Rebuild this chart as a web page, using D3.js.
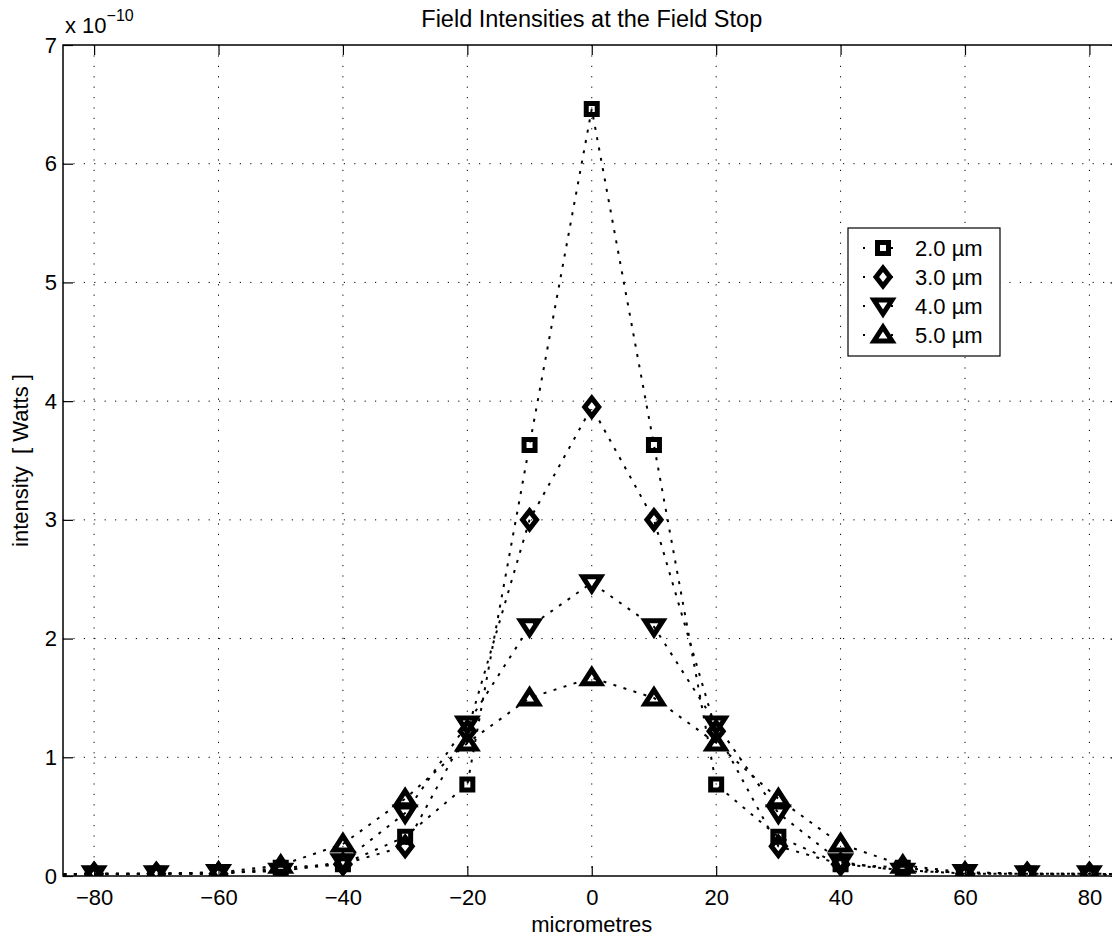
<!DOCTYPE html>
<html>
<head>
<meta charset="utf-8">
<script src="https://cdn.jsdelivr.net/npm/d3@7"></script>
<style>
  body { margin: 0; background: #fff; }
  svg { font-family: "Liberation Sans", Arial, Helvetica, sans-serif; }
  .axis text { font-size: 22px; fill: #000; }
  .axis line { stroke: #000; stroke-width: 1.2; }
</style>
</head>
<body>
<svg width="1112" height="939"></svg>
<script>
var svg = d3.select('svg');

// data, intensity in units of 1e-10 W
var xPos = [-90, -80, -70, -60, -50, -40, -30, -20, -10, 0, 10, 20, 30, 40, 50, 60, 70, 80, 90];
var int20 = [0.01, 0.01, 0.02, 0.02, 0.07, 0.10, 0.33, 0.77, 3.63, 6.46, 3.63, 0.77, 0.33, 0.10, 0.07, 0.02, 0.02, 0.01, 0.01];
var int30 = [0.01, 0.02, 0.02, 0.02, 0.05, 0.10, 0.25, 1.22, 3.00, 3.95, 3.00, 1.22, 0.25, 0.10, 0.05, 0.02, 0.02, 0.02, 0.01];
var int40 = [0.01, 0.02, 0.02, 0.03, 0.04, 0.12, 0.53, 1.28, 2.10, 2.47, 2.10, 1.28, 0.53, 0.12, 0.04, 0.03, 0.02, 0.02, 0.01];
var int50 = [0.01, 0.02, 0.02, 0.03, 0.09, 0.27, 0.65, 1.12, 1.50, 1.67, 1.50, 1.12, 0.65, 0.27, 0.09, 0.03, 0.02, 0.02, 0.01];
var seriesNames = ["2.0 \u00b5m", "3.0 \u00b5m", "4.0 \u00b5m", "5.0 \u00b5m"];
var markerTypes = ["square", "diamond", "down", "up"];
var xTicks = [-80, -60, -40, -20, 0, 20, 40, 60, 80];
var yTicks = [0, 1, 2, 3, 4, 5, 6, 7];

var allSeries = [int20, int30, int40, int50];

// plot box
var plotLeft = 63, plotTop = 45, plotBottom = 876;
var x = d3.scaleLinear().domain([-85, 85]).range([plotLeft, 1120.5]);
var y = d3.scaleLinear().domain([0, 7]).range([plotBottom, plotTop]);
var plotRight = x(85);

// marker shapes, centred on 0,0
var markerPath = {
  square: "M-5.5,-5.5H5.5V5.5H-5.5Z",
  diamond: "M0,-9L7,0L0,9L-7,0Z",
  down: "M-9,-6H9L0,8Z",
  up: "M-9,6H9L0,-8Z"
};

svg.append("defs").append("clipPath").attr("id", "plotClip")
  .append("rect")
  .attr("x", plotLeft).attr("y", plotTop)
  .attr("width", plotRight - plotLeft).attr("height", plotBottom - plotTop);

// grid lines
var grid = svg.append("g");
grid.selectAll(".vgrid").data(xTicks).enter().append("line")
  .attr("x1", d => x(d)).attr("x2", d => x(d))
  .attr("y1", plotTop).attr("y2", plotBottom)
  .attr("stroke", "#000").attr("stroke-width", 1)
  .attr("stroke-dasharray", "1.2,9.2");
grid.selectAll(".hgrid").data(yTicks.slice(1, -1)).enter().append("line")
  .attr("x1", plotLeft).attr("x2", plotRight)
  .attr("y1", d => y(d)).attr("y2", d => y(d))
  .attr("stroke", "#000").attr("stroke-width", 1)
  .attr("stroke-dasharray", "1.2,9.2");

// axes, ticks inside
svg.append("g").attr("class", "axis")
  .attr("transform", "translate(0," + plotBottom + ")")
  .call(d3.axisBottom(x).tickValues(xTicks).tickSize(-10).tickPadding(13.5))
  .call(g => g.select(".domain").remove());
svg.append("g").attr("class", "axis")
  .attr("transform", "translate(0," + plotTop + ")")
  .call(d3.axisTop(x).tickValues(xTicks).tickSize(-10).tickFormat(""))
  .call(g => g.select(".domain").remove());
svg.append("g").attr("class", "axis")
  .attr("transform", "translate(" + plotLeft + ",0)")
  .call(d3.axisLeft(y).tickValues(yTicks).tickSize(-10).tickPadding(6).tickFormat(d3.format("d")))
  .call(g => g.select(".domain").remove());
svg.append("g").attr("class", "axis")
  .attr("transform", "translate(" + plotRight + ",0)")
  .call(d3.axisRight(y).tickValues(yTicks).tickSize(-10).tickFormat(""))
  .call(g => g.select(".domain").remove());

svg.append("rect")
  .attr("x", plotLeft).attr("y", plotTop)
  .attr("width", plotRight - plotLeft).attr("height", plotBottom - plotTop)
  .attr("fill", "none").attr("stroke", "#000").attr("stroke-width", 1.5);

// series
var line = d3.line().x((d, i) => x(xPos[i])).y(d => y(d));
var plot = svg.append("g").attr("clip-path", "url(#plotClip)");

allSeries.forEach(function(vals, k) {
  plot.append("path")
    .attr("d", line(vals))
    .attr("fill", "none")
    .attr("stroke", "#000")
    .attr("stroke-width", 2)
    .attr("stroke-dasharray", "3,7.5");
});
allSeries.forEach(function(vals, k) {
  plot.selectAll(".m" + k).data(vals).enter().append("path")
    .attr("class", "m" + k)
    .attr("transform", (d, i) => "translate(" + x(xPos[i]) + "," + y(d) + ")")
    .attr("d", markerPath[markerTypes[k]])
    .attr("fill", "none")
    .attr("stroke", "#000")
    .attr("stroke-width", 5)
    .attr("stroke-linejoin", "miter")
    .attr("stroke-miterlimit", 10);
});

// legend
var legend = svg.append("g");
legend.append("rect")
  .attr("x", 848).attr("y", 228).attr("width", 152).attr("height", 128)
  .attr("fill", "#fff").attr("stroke", "#000").attr("stroke-width", 1.2);
seriesNames.forEach(function(name, k) {
  var cy = 248 + k * 29;
  legend.append("line")
    .attr("x1", 863).attr("x2", 900).attr("y1", cy).attr("y2", cy)
    .attr("stroke", "#000").attr("stroke-width", 2)
    .attr("stroke-dasharray", "2,12");
  legend.append("path")
    .attr("transform", "translate(883," + cy + ")")
    .attr("d", markerPath[markerTypes[k]])
    .attr("fill", "none").attr("stroke", "#000").attr("stroke-width", 5);
  legend.append("text")
    .attr("x", 915).attr("y", cy + 8)
    .attr("font-size", 22)
    .text(name);
});

// texts
svg.append("text")
  .attr("x", (plotLeft + 1120.5) / 2).attr("y", 27)
  .attr("text-anchor", "middle").attr("font-size", 23.5)
  .text("Field Intensities at the Field Stop");

svg.append("text")
  .attr("x", (plotLeft + 1120.5) / 2).attr("y", 932)
  .attr("text-anchor", "middle").attr("font-size", 22)
  .text("micrometres");

svg.append("text")
  .attr("transform", "translate(28," + ((plotTop + plotBottom) / 2) + ") rotate(-90)")
  .attr("text-anchor", "middle").attr("font-size", 22)
  .style("white-space", "pre")
  .text("intensity  [ Watts ]");

var expo = svg.append("text").attr("x", 65).attr("y", 33).attr("font-size", 22);
expo.append("tspan").text("x 10");
expo.append("tspan").attr("dy", -12).attr("font-size", 16).text("\u221210");
</script>
</body>
</html>
